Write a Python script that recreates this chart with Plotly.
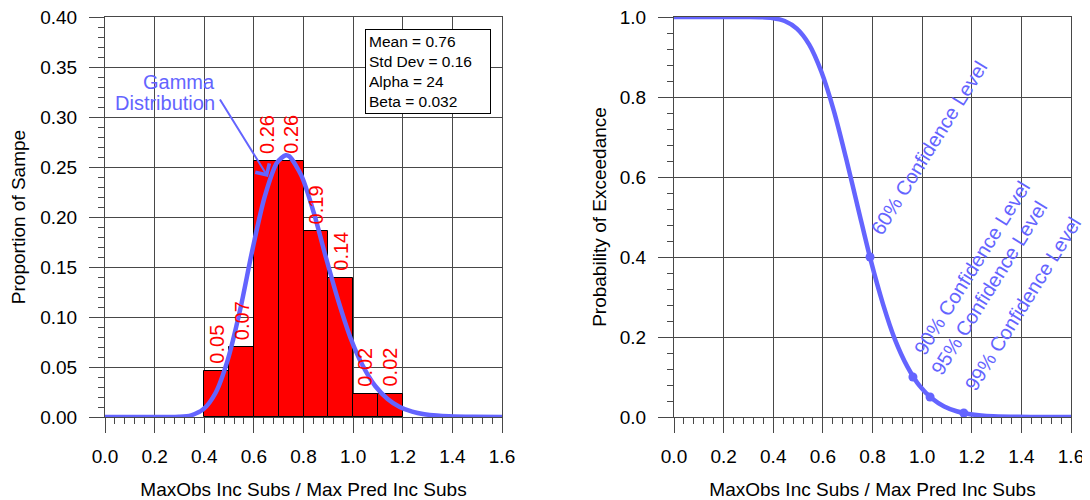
import plotly.graph_objects as go

# ---------------- data ----------------
bin_centers = [0.45, 0.55, 0.65, 0.75, 0.85, 0.95, 1.05, 1.15]
bin_props = [0.0465, 0.0698, 0.2558, 0.2558, 0.1860, 0.1395, 0.0233, 0.0233]
bin_labels = ["0.05", "0.07", "0.26", "0.26", "0.19", "0.14", "0.02", "0.02"]

pdf_x = [0.0, 0.1, 0.2, 0.248, 0.297, 0.347, 0.396, 0.446, 0.495, 0.545, 0.594,
         0.644, 0.693, 0.728, 0.743, 0.792, 0.842, 0.891, 0.941, 0.990, 1.040,
         1.089, 1.139, 1.188, 1.238, 1.287, 1.337, 1.386, 1.485, 1.6]
pdf_y = [0.0, 0.0, 0.0, 0.00002, 0.00023, 0.0017, 0.0077, 0.0243, 0.0574, 0.1077, 0.1671,
         0.2207, 0.2543, 0.2617, 0.2606, 0.2411, 0.2038, 0.1590, 0.1156, 0.0788, 0.0507,
         0.0310, 0.0181, 0.0101, 0.0054, 0.0028, 0.0014, 0.0007, 0.00015, 0.00003]

exc_x = [0.0, 0.1, 0.2, 0.25, 0.297, 0.347, 0.396, 0.446, 0.495, 0.545, 0.594,
         0.644, 0.693, 0.743, 0.792, 0.842, 0.891, 0.941, 0.990, 1.040, 1.089,
         1.139, 1.188, 1.238, 1.287, 1.386, 1.485, 1.6]
exc_y = [1.0, 1.0, 1.0, 1.0, 0.99995, 0.9995, 0.9975, 0.990, 0.971, 0.931, 0.863,
         0.766, 0.648, 0.519, 0.394, 0.283, 0.193, 0.1255, 0.0778, 0.0462, 0.0263,
         0.0144, 0.0077, 0.0039, 0.0020, 0.0005, 0.0001, 0.0]

conf_labels = ["60% Confidence Level", "90% Confidence Level",
               "95% Confidence Level", "99% Confidence Level"]
conf_x = [0.79, 0.963, 1.032, 1.168]
conf_y = [0.40, 0.10, 0.05, 0.01]

stats_lines = ["Mean = 0.76", "Std Dev = 0.16", "Alpha = 24", "Beta = 0.032"]
curve_label = ["Gamma", "Distribution"]

x_ticks = [0.0, 0.2, 0.4, 0.6, 0.8, 1.0, 1.2, 1.4, 1.6]
x_ticklabels = ["0.0", "0.2", "0.4", "0.6", "0.8", "1.0", "1.2", "1.4", "1.6"]
y1_ticks = [0.0, 0.05, 0.10, 0.15, 0.20, 0.25, 0.30, 0.35, 0.40]
y1_ticklabels = ["0.00", "0.05", "0.10", "0.15", "0.20", "0.25", "0.30", "0.35", "0.40"]
y2_ticks = [0.0, 0.2, 0.4, 0.6, 0.8, 1.0]
y2_ticklabels = ["0.0", "0.2", "0.4", "0.6", "0.8", "1.0"]

x_title = "MaxObs Inc Subs / Max Pred Inc Subs"
y1_title = "Proportion of Sampe"
y2_title = "Probability of Exceedance"

# ---------------- styling ----------------
BLUE = "#6464FF"
RED = "#FF0000"
FONT = "Liberation Sans, Arial, sans-serif"
GRID = "#484848"
W, H = 1082, 492   # page body adds an 8px offset

fig = go.Figure()

fig.add_trace(go.Bar(
    x=bin_centers, y=bin_props, width=0.1,
    marker=dict(color=RED, line=dict(color="#000000", width=1)),
    xaxis="x", yaxis="y", showlegend=False, hoverinfo="skip"))

fig.add_trace(go.Scatter(
    x=pdf_x, y=pdf_y, mode="lines",
    line=dict(color=BLUE, width=4.5, shape="spline", smoothing=0.8),
    cliponaxis=False, xaxis="x", yaxis="y", showlegend=False))

fig.add_trace(go.Scatter(
    x=exc_x, y=exc_y, mode="lines",
    line=dict(color=BLUE, width=4.5, shape="spline", smoothing=0.8),
    cliponaxis=False, xaxis="x2", yaxis="y2", showlegend=False))

fig.add_trace(go.Scatter(
    x=conf_x, y=conf_y, mode="markers",
    marker=dict(color=BLUE, size=9),
    cliponaxis=False, xaxis="x2", yaxis="y2", showlegend=False))


def axis(**kw):
    base = dict(showgrid=True, gridcolor=GRID, gridwidth=1, automargin=False,
                showline=True, linecolor=GRID, linewidth=1, mirror=True,
                ticks="outside", ticklen=15, tickcolor=GRID, tickwidth=1,
                zeroline=False, ticklabeloverflow="allow",
                tickfont=dict(size=19, family=FONT, color="#000"),
                title_font=dict(size=19, family=FONT, color="#000"))
    base.update(kw)
    return base


minor_x = dict(tickmode="linear", tick0=0, dtick=0.04, ticks="outside",
               ticklen=6, tickcolor=GRID, showgrid=False)

fig.update_layout(
    template="none",
    width=W, height=H,
    margin=dict(l=0, r=0, t=9, b=83, autoexpand=False),
    plot_bgcolor="white", paper_bgcolor="white",
    font=dict(family=FONT, size=19, color="#000"),
    bargap=0, showlegend=False,
    xaxis=axis(domain=[97 / W, 494 / W], range=[0, 1.6], anchor="y",
               tickmode="array", tickvals=x_ticks, ticktext=x_ticklabels,
               minor=minor_x, ticklabelstandoff=7,
               title=dict(text=x_title, standoff=17)),
    yaxis=axis(domain=[0, 1], range=[0, 0.4], anchor="x",
               tickmode="array", tickvals=y1_ticks, ticktext=y1_ticklabels,
               minor=dict(tickmode="linear", tick0=0, dtick=0.01, ticks="outside",
                          ticklen=6, tickcolor=GRID, showgrid=False),
               ticklabelstandoff=8,
               title=dict(text=y1_title, standoff=12)),
    xaxis2=axis(domain=[666 / W, 1063 / W], range=[0, 1.6], anchor="y2",
                tickmode="array", tickvals=x_ticks, ticktext=x_ticklabels,
                minor=minor_x, ticklabelstandoff=7,
                title=dict(text=x_title, standoff=17)),
    yaxis2=axis(domain=[0, 1], range=[0, 1.0], anchor="x2",
                tickmode="array", tickvals=y2_ticks, ticktext=y2_ticklabels,
                minor=dict(tickmode="linear", tick0=0, dtick=0.04, ticks="outside",
                           ticklen=6, tickcolor=GRID, showgrid=False),
                ticklabelstandoff=8,
                title=dict(text=y2_title, standoff=8)),
)

# bar value labels
for bx, by, bl in zip(bin_centers, bin_props, bin_labels):
    fig.add_annotation(
        xref="x", yref="y", x=bx, y=by, text=bl, textangle=-90,
        xanchor="center", yanchor="bottom", yshift=6, showarrow=False,
        borderpad=0, font=dict(size=20, family=FONT, color=RED))

# statistics box
fig.add_annotation(
    xref="x domain", yref="y domain", x=0.655, y=0.970,
    xanchor="left", yanchor="top", text="<br>".join(stats_lines),
    align="left", showarrow=False, bordercolor="#000", borderwidth=1,
    borderpad=3, width=118, bgcolor="white",
    font=dict(size=15.5, family=FONT, color="#000"))

# "Gamma Distribution" label (two lines) and arrow
for i, line in enumerate(curve_label):
    fig.add_annotation(
        xref="x", yref="y", x=0.451, y=0.335 - 0.0213 * i, xanchor="right",
        yanchor="middle", text=line, showarrow=False,
        font=dict(size=20, family=FONT, color=BLUE))
fig.add_annotation(
    xref="x", yref="y", x=0.657, y=0.240, ax=-49, ay=-79, text="",
    showarrow=True, arrowhead=4, arrowsize=1.6, arrowwidth=2, arrowcolor=BLUE)

# confidence level labels
for lbl, cx, cy in zip(conf_labels, conf_x, conf_y):
    fig.add_annotation(
        xref="x2", yref="y2", x=cx, y=cy, text=lbl, textangle=-58,
        xanchor="center", yanchor="middle", showarrow=False,
        xshift=59, yshift=109, font=dict(size=20, family=FONT, color=BLUE))

fig.write_html("out.html")
